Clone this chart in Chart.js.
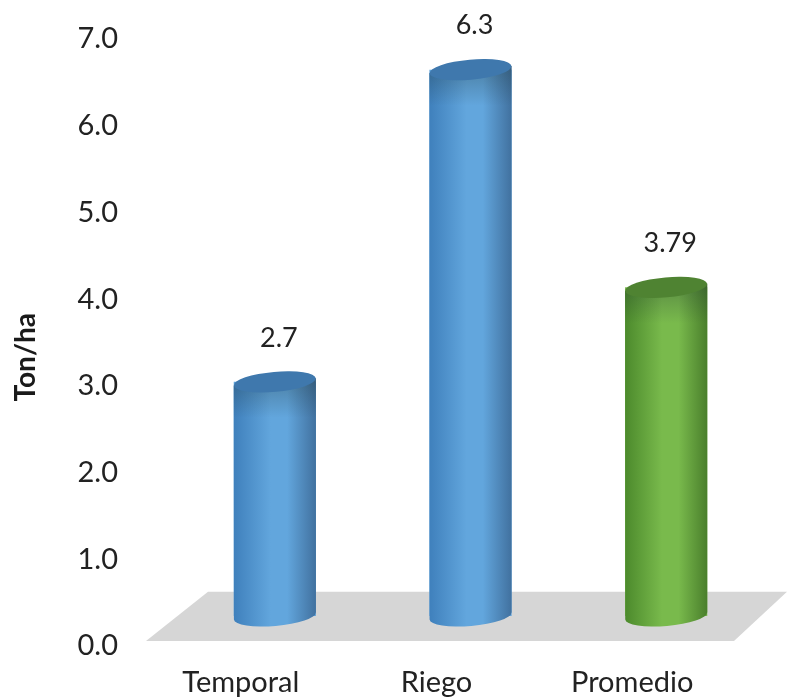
<!DOCTYPE html>
<html>
<head>
<meta charset="utf-8">
<style>
  html, body { margin: 0; padding: 0; background: #fff; }
  canvas { display: block; }
</style>
<script src="https://cdn.jsdelivr.net/npm/chart.js@4/dist/chart.umd.min.js"></script>
</head>
<body>
<canvas id="chart" width="787" height="697"></canvas>
<script>
const categories = ['Temporal', 'Riego', 'Promedio'];
const values = [2.7, 6.3, 3.79];
const valueLabels = ['2.7', '6.3', '3.79'];
const yTicks = ['0.0', '1.0', '2.0', '3.0', '4.0', '5.0', '6.0', '7.0'];
const yTitle = 'Ton/ha';

const FONT = 'Lato, sans-serif';
const TEXT = '#222';
const BLUE = { edgeL: '#3f80bc', mid: '#62a6dd', edgeR: '#41719f', top: '#3f78ad' };
const GREEN = { edgeL: '#4c8a2c', mid: '#79ba4c', edgeR: '#4a7f2c', top: '#4f8332' };
const barColors = [BLUE, BLUE, GREEN];

const RY = 10;
const TILT = -5 * Math.PI / 180;

// floor and cylinders are painted around the bar elements chart.js lays out
const cylinders = {
  id: 'cylinders',
  beforeDatasetsDraw(chart) {
    const { ctx, chartArea, scales } = chart;
    const bottom = scales.y.getPixelForValue(0) - 5;
    const top = scales.y.getPixelForValue(0.625);
    ctx.save();
    ctx.fillStyle = '#d6d6d6';
    ctx.beginPath();
    ctx.moveTo(chartArea.left - 31, bottom);
    ctx.lineTo(chartArea.right - 30, bottom);
    ctx.lineTo(chartArea.right + 23, top);
    ctx.lineTo(chartArea.left + 31, top);
    ctx.closePath();
    ctx.fill();
    ctx.restore();
  },
  afterDatasetsDraw(chart) {
    const { ctx } = chart;
    chart.getDatasetMeta(0).data.forEach((bar, i) => {
      const c = barColors[i];
      const rx = bar.width / 2;
      const l = bar.x - rx, r = bar.x + rx;
      const dy = rx * Math.sin(TILT);
      const g = ctx.createLinearGradient(l, 0, r, 0);
      g.addColorStop(0, c.edgeL);
      g.addColorStop(0.45, c.mid);
      g.addColorStop(0.65, c.mid);
      g.addColorStop(1, c.edgeR);

      ctx.save();
      ctx.fillStyle = g;
      ctx.beginPath();
      ctx.moveTo(l, bar.y - dy);
      ctx.lineTo(r, bar.y + dy);
      ctx.lineTo(r, bar.base + dy);
      ctx.ellipse(bar.x, bar.base, rx, RY, TILT, 0, Math.PI);
      ctx.closePath();
      ctx.fill();

      // darker band just under the rim
      const s = ctx.createLinearGradient(0, bar.y, 0, bar.y + 36);
      s.addColorStop(0, 'rgba(30,50,50,0.3)');
      s.addColorStop(1, 'rgba(30,50,50,0)');
      ctx.fillStyle = s;
      ctx.beginPath();
      ctx.moveTo(l, bar.y - dy);
      ctx.lineTo(r, bar.y + dy);
      ctx.lineTo(r, bar.y + 36);
      ctx.lineTo(l, bar.y + 36);
      ctx.closePath();
      ctx.fill();

      ctx.fillStyle = c.top;
      ctx.beginPath();
      ctx.ellipse(bar.x, bar.y, rx, RY, TILT, 0, Math.PI * 2);
      ctx.fill();

      ctx.fillStyle = TEXT;
      ctx.font = '27px ' + FONT;
      ctx.textAlign = 'center';
      ctx.textBaseline = 'middle';
      ctx.fillText(valueLabels[i], bar.x + 4, bar.y - 44);
      ctx.restore();
    });
  },
  // axis title sits lower than the centre of the axis, so it is placed by hand
  afterDraw(chart) {
    const { ctx, scales } = chart;
    ctx.save();
    ctx.translate(26, scales.y.getPixelForValue(3.33));
    ctx.rotate(-Math.PI / 2);
    ctx.fillStyle = '#1a1a1a';
    ctx.font = 'bold 28px ' + FONT;
    ctx.textAlign = 'center';
    ctx.textBaseline = 'middle';
    ctx.fillText(yTitle, 0, 0);
    ctx.restore();
  }
};

new Chart(document.getElementById('chart'), {
  type: 'bar',
  data: {
    labels: categories,
    datasets: [{
      data: values,
      yAxisID: 'y2',
      backgroundColor: barColors.map(c => c.mid),
      categoryPercentage: 1,
      barPercentage: 0.42
    }]
  },
  options: {
    responsive: false,
    animation: false,
    layout: { padding: { top: 39, right: 23, left: 10 } },
    plugins: { legend: { display: false }, tooltip: { enabled: false } },
    scales: {
      x: {
        grid: { display: false },
        border: { display: false },
        // the labels sit left of their bars in the original
        ticks: { color: TEXT, font: { family: FONT, size: 29 }, padding: 11, labelOffset: -34, maxRotation: 0 },
        afterFit(axis) { axis.height = 51; axis.paddingLeft = 0; axis.paddingRight = 0; }
      },
      y: {
        min: 0,
        max: 7,
        grid: { display: false },
        border: { display: false },
        ticks: {
          stepSize: 1,
          color: TEXT,
          font: { family: FONT, size: 29 },
          padding: 51,
          callback: (v, i) => yTicks[i]
        },
        // tick padding would otherwise push the plot top and bottom inward
        afterFit(axis) { axis.width = 167; axis.paddingTop = 0; axis.paddingBottom = 0; }
      },
      // bars stand on the floor, a bit above the 0.0 label
      y2: { display: false, min: -0.346, max: 6.654 }
    }
  },
  plugins: [cylinders]
});
</script>
</body>
</html>
